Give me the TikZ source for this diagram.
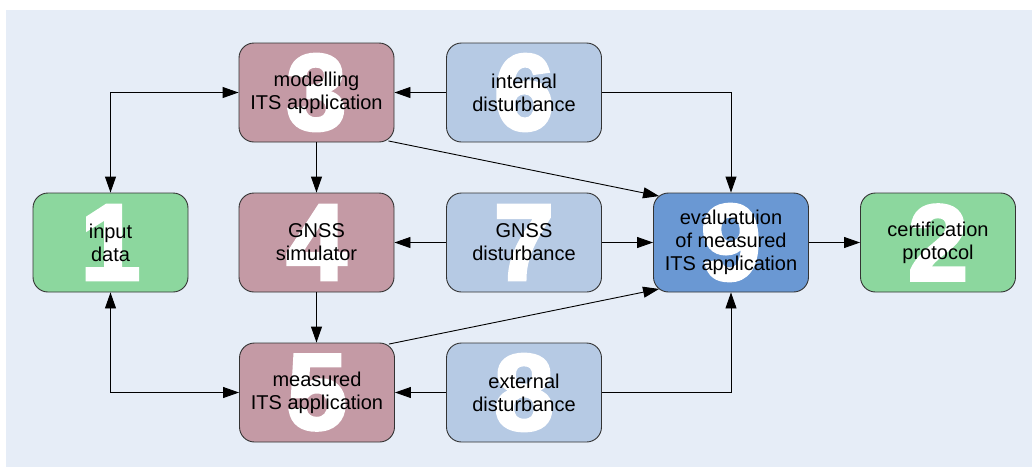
\documentclass[tikz,border=0pt]{standalone}
\usepackage{fontspec}
\setmainfont{Liberation Sans}
\newfontfamily\digfont{Liberation Sans}[UprightFont=* Bold, FakeBold=3]
\usetikzlibrary{arrows.meta}
\definecolor{bgc}{HTML}{E6EDF7}
\definecolor{pinkc}{HTML}{C49AA5}
\definecolor{lbluec}{HTML}{B6CAE4}
\definecolor{greenc}{HTML}{8CD79E}
\definecolor{bluec}{HTML}{6A98D3}
\definecolor{edgec}{HTML}{333333}
\tikzset{
  box/.style={draw=edgec, line width=0.9pt, rounded corners=15pt, minimum width=155pt, minimum height=99pt, inner sep=0pt, text=white, font=\digfont\fontsize{108}{108}\selectfont},
  txt/.style={align=center, text=black, inner sep=0pt, font=\fontsize{20}{23}\selectfont},
  conn/.style={draw=black, line width=0.9pt, -{Triangle[length=16pt,width=11pt]}},
  bconn/.style={draw=black, line width=0.9pt, {Triangle[length=16pt,width=11pt]}-{Triangle[length=16pt,width=11pt]}}
}
\begin{document}
\begin{tikzpicture}[x=1pt,y=1pt]
\useasboundingbox (0,0) rectangle (1032,-467);
\fill[bgc] (6,-10) rectangle (1032,-467);
% boxes
\node[box, fill=greenc] (b1) at (110.5,-242.5) {1};
\node[box, fill=pinkc] (b3) at (316.5,-92.5) {3};
\node[box, fill=lbluec] (b6) at (524,-92.5) {6};
\node[box, fill=pinkc] (b4) at (316.5,-242.5) {4};
\node[box, fill=lbluec] (b7) at (524,-242.5) {7};
\node[box, fill=bluec] (b9) at (731,-242.5) {9};
\node[box, fill=greenc] (b2) at (938,-242.5) {2};
\node[box, fill=pinkc] (b5) at (317,-392.5) {5};
\node[box, fill=lbluec] (b8) at (524,-392.5) {8};
% texts
\node[txt] (t1) at (b1) {input\\data};
\node[txt] (t3) at (b3) {modelling\\ITS application};
\node[txt] (t6) at (b6) {internal\\disturbance};
\node[txt] (t4) at (b4) {GNSS\\simulator};
\node[txt] (t7) at (b7) {GNSS\\disturbance};
\node[txt] (t9) at (b9) {evaluatuion\\of measured\\ITS application};
\node[txt] (t2) at (b2) {certification\\protocol};
\node[txt] (t5) at (b5) {measured\\ITS application};
\node[txt] (t8) at (b8) {external\\disturbance};
% connectors
\draw[bconn] (b1.north) -- (b1.north |- b3.west) -- (b3.west);
\draw[bconn] (b1.south) -- (b1.south |- b5.west) -- (b5.west);
\draw[conn] (b3.south) -- (b4.north);
\draw[conn] (b4.south) -- (b4.south |- b5.north);
\draw[conn] (b6.west) -- (b3.east);
\draw[conn] (b7.west) -- (b4.east);
\draw[conn] (b8.west) -- (b5.east);
\draw[conn] (b6.east) -- (b6.east -| b9.north) -- (b9.north);
\draw[conn] (b8.east) -- (b8.east -| b9.south) -- (b9.south);
\draw[conn] (b7.east) -- (b9.west);
\draw[conn] (b9.east) -- (b2.west);
\draw[conn] ([shift={(-6pt,1.5pt)}]b3.south east) -- ([shift={(6pt,-3.5pt)}]b9.north west);
\draw[conn] ([shift={(-6pt,-1.5pt)}]b5.north east) -- ([shift={(6pt,3.5pt)}]b9.south west);
\end{tikzpicture}
\end{document}
